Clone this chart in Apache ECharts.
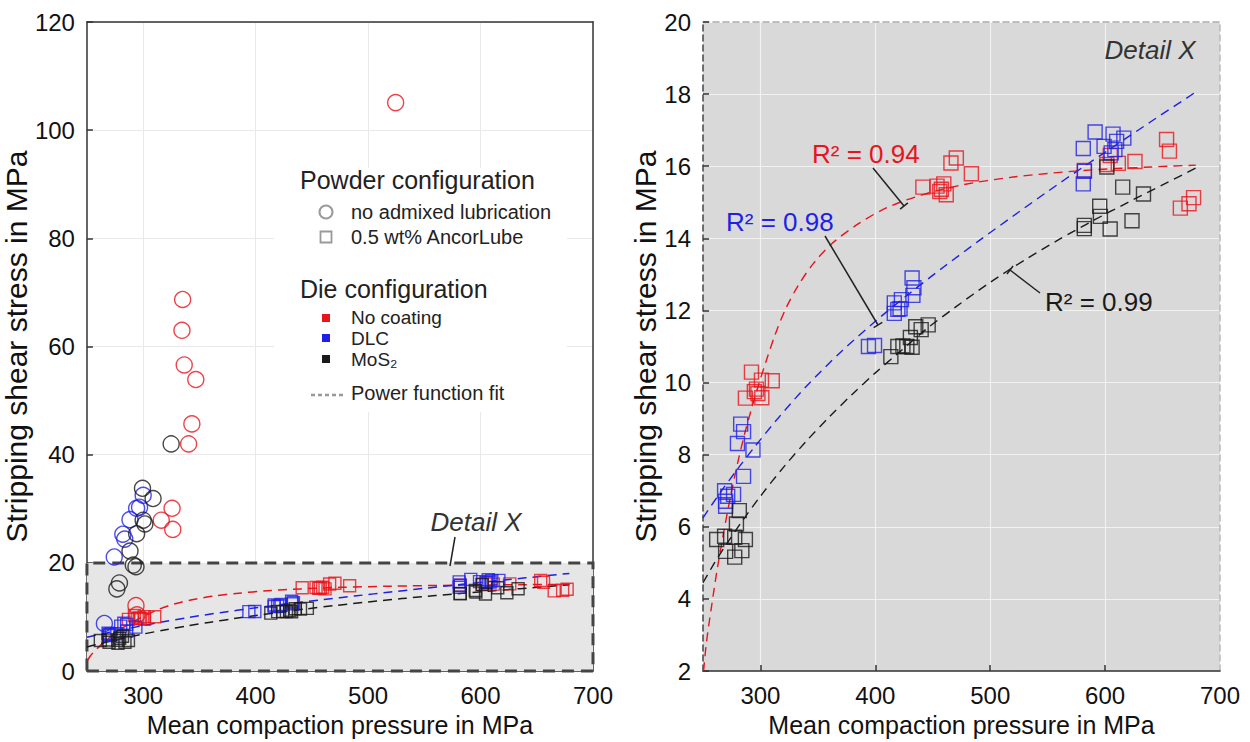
<!DOCTYPE html>
<html><head><meta charset="utf-8">
<script src="https://cdn.jsdelivr.net/npm/echarts@6/dist/echarts.min.js"></script>
<style>html,body{margin:0;padding:0;background:#fff}#c{width:1250px;height:742px}</style>
</head><body><div id="c"></div>
<script>
// ---------- data ----------
// squares: 0.5 wt% AncorLube
const sqRedX = [286.9,292.2,294.7,296.5,297.8,300.9,301.2,310.3, 441.4,453.7,456.1,457.5,459.6,461.7,465.8,470.5,483.6, 581.9,601.5,604.5,611.5,626,653.5,656,665.5,673,677];
const sqRedY = [9.57,10.29,9.75,9.82,9.70,10.07,9.58,10.05, 15.42,15.45,15.30,15.36,15.51,15.21,16.09,16.23,15.79, 15.88,16.05,16.3,16.08,16.13,16.74,16.42,14.84,14.96,15.13];
const sqBlueX = [268.8,269.7,269.7,271.5,276.6,280,282.8,285.3,285.3,293.5, 394,399.3,416.5,416.5,419.6,421.5,422.7,432,433.6,432.7, 581,582,581,591.3,599.1,605.3,606.9,608.5,610,616.3];
const sqBlueY = [7.0,6.71,6.57,6.85,6.9,8.31,8.85,8.64,7.4,8.13, 11.0,11.03,11.92,12.21,12.03,12.05,12.30,12.9,12.63,12.42, 16.49,15.86,15.51,16.95,16.55,16.37,16.89,16.46,16.69,16.78];
const sqBlackX = [261.9,268.8,269.7,277.6,277.6,279.1,281.6,283.8,286.9, 413.5,419.6,424,427.4,430.5,432,435.2,439.9,446, 581.9,581.9,595.3,595.9,601.5,604.4,615.3,623.4,633.4];
const sqBlackY = [5.65,5.74,5.32,5.71,5.16,6.08,6.45,5.34,5.65, 10.72,11.0,11.02,11.0,11.25,10.98,11.55,11.47,11.6, 14.36,14.27,14.89,14.61,15.98,14.26,15.42,14.49,15.23];
// circles: no admixed lubrication
const ciRedX = [524.5,335.1,334.5,336.5,346.8,343.3,340.4,325.7,316.1,326.3,293.6,294.5];
const ciRedY = [105.1,68.7,63.0,56.6,53.9,45.7,42.0,30.1,27.9,26.2,12.1,10.4];
const ciBlueX = [274.3,281.9,283.6,288.3,294.2,296.8,300,265.5];
const ciBlueY = [21.1,25.3,24.4,28.0,30.1,30.3,32.5,8.8];
const ciBlackX = [324.9,299.4,308.8,300,301.5,294.2,288.3,291.2,293.6,278.9,276.6];
const ciBlackY = [42.0,33.8,31.9,27.9,27.2,25.4,22.2,19.6,19.3,16.3,15.2];
// power function fit curves
const fitRedX = [250.5,253,257,262,268,274,280,286,292,298,305,313,322,333,346,362,385,410,440,475,520,580,640,679];
const fitRedY = [2.0,2.8,3.7,4.75,5.85,6.85,7.75,8.55,9.25,9.9,10.6,11.35,12.05,12.7,13.3,13.85,14.4,14.85,15.2,15.48,15.7,15.88,15.98,16.03];
const fitBlueX = [250,265,280,295,315,340,370,400,430,460,490,520,550,580,610,640,679];
const fitBlueY = [6.25,6.95,7.6,8.22,9.0,9.9,10.85,11.7,12.48,13.22,13.93,14.62,15.3,15.96,16.6,17.24,18.06];
const fitBlackX = [250,260,270,285,300,320,340,360,380,400,420,445,470,500,530,560,590,620,650,679];
const fitBlackY = [4.45,5.0,5.5,6.2,6.85,7.65,8.38,9.05,9.68,10.27,10.82,11.5,12.1,12.78,13.4,13.97,14.5,15.0,15.48,15.95];
// axis ticks / labels
const xTicks = [300,400,500,600,700];
const xTickMarks = [300,400,500,600];
const r2Labels = ['R² = 0.94','R² = 0.98','R² = 0.99'];

// ---------- chart ----------
const RED = '#e8141c', BLUE = '#1f1fe6', BLACK = '#1a1a1a';
const FONT = 'Liberation Sans, Arial, sans-serif';
const zip = (xs, ys) => xs.map((x, i) => [x, ys[i]]);
const chart = echarts.init(document.getElementById('c'), null, {renderer: 'svg'});

const G0 = {left: 75, top: 22, width: 518, height: 654};
const G1 = {left: 703, top: 22, width: 517, height: 654};

function xAxisMain(gi, gridColor, gridWidth) {
  return {
    gridIndex: gi, type: 'value', min: 250, max: 700, splitNumber: 5, position: 'bottom',
    name: 'Mean compaction pressure in MPa', nameLocation: 'middle', nameGap: 38,
    nameTextStyle: {fontSize: 25, color: '#111', fontFamily: FONT},
    axisLine: {show: true, onZero: false, lineStyle: {color: '#333', width: 1.5}},
    axisTick: {show: true, inside: true, length: 6, customValues: xTickMarks, lineStyle: {color: '#333', width: 1.5}},
    axisLabel: {customValues: xTicks, fontSize: 24, color: '#111', fontFamily: FONT, margin: 12},
    splitLine: {show: true, lineStyle: {color: gridColor, width: gridWidth}}
  };
}
function yAxisMain(gi, min, max, interval, gridColor, gridWidth, dashed, nameGap) {
  return {
    gridIndex: gi, type: 'value', min: min, max: max, interval: interval, position: 'left',
    name: 'Stripping shear stress in MPa', nameLocation: 'middle', nameGap: nameGap, nameRotate: 90,
    nameTextStyle: {fontSize: 30, color: '#111', fontFamily: FONT},
    axisLine: {show: true, onZero: false, lineStyle: {color: dashed ? '#444' : '#333', width: 1.5, type: dashed ? [6, 4] : 'solid'}},
    axisTick: {show: true, inside: true, length: 6, lineStyle: {color: '#333', width: 1.5}},
    axisLabel: {fontSize: 24, color: '#111', fontFamily: FONT, margin: 12},
    splitLine: {show: true, lineStyle: {color: gridColor, width: gridWidth}}
  };
}
function frameAxis(gi, pos, color, dashed, min, max) {
  return {
    gridIndex: gi, type: 'value', min: min, max: max, position: pos,
    axisLine: {show: true, onZero: false, lineStyle: {color: color, width: 1.5, type: dashed ? [6, 4] : 'solid'}},
    axisTick: {show: false}, axisLabel: {show: false}, splitLine: {show: false}
  };
}

function scatter(name, xi, yi, xs, ys, symbol, size, color) {
  return {
    type: 'scatter', name: name, xAxisIndex: xi, yAxisIndex: yi, z: 4,
    symbol: symbol, symbolSize: size, data: zip(xs, ys), silent: true,
    itemStyle: {color: 'rgba(0,0,0,0)', borderColor: color, borderWidth: 1.4}
  };
}
function fit(xi, yi, xs, ys, color, w, dash) {
  return {
    type: 'line', xAxisIndex: xi, yAxisIndex: yi, z: 3, data: zip(xs, ys),
    showSymbol: false, smooth: 0.3, silent: true,
    lineStyle: {color: color, width: w, type: dash}
  };
}

const series = [
  // Detail X box on overview chart
  {type: 'scatter', xAxisIndex: 0, yAxisIndex: 0, data: [], z: 1, silent: true,
    markArea: {silent: true, z: 1,
      itemStyle: {color: '#e6e6e6', borderColor: '#444', borderWidth: 3, borderType: [12, 7]},
      data: [[{xAxis: 250, yAxis: 0}, {xAxis: 700, yAxis: 20}]]}},
  fit(0, 0, fitRedX, fitRedY, RED, 1.5, [9, 6]),
  fit(0, 0, fitBlueX, fitBlueY, BLUE, 1.5, [9, 6]),
  fit(0, 0, fitBlackX, fitBlackY, BLACK, 1.5, [9, 6]),
  scatter('red sq', 0, 0, sqRedX, sqRedY, 'rect', 12, RED),
  scatter('blue sq', 0, 0, sqBlueX, sqBlueY, 'rect', 12, BLUE),
  scatter('black sq', 0, 0, sqBlackX, sqBlackY, 'rect', 12, BLACK),
  scatter('red ci', 0, 0, ciRedX, ciRedY, 'circle', 16, RED),
  scatter('blue ci', 0, 0, ciBlueX, ciBlueY, 'circle', 16, BLUE),
  scatter('black ci', 0, 0, ciBlackX, ciBlackY, 'circle', 16, BLACK),
  // detail chart
  fit(2, 2, fitRedX, fitRedY, RED, 1.4, [9, 6]),
  fit(2, 2, fitBlueX, fitBlueY, BLUE, 1.4, [9, 6]),
  fit(2, 2, fitBlackX, fitBlackY, BLACK, 1.4, [9, 6]),
  scatter('red sq d', 2, 2, sqRedX, sqRedY, 'rect', 14, RED),
  scatter('blue sq d', 2, 2, sqBlueX, sqBlueY, 'rect', 14, BLUE),
  scatter('black sq d', 2, 2, sqBlackX, sqBlackY, 'rect', 14, BLACK)
];

function leader(x1, y1, x2, y2) {
  const dx = x2 - x1, dy = y2 - y1, L = Math.hypot(dx, dy);
  const px = -dy / L * 5, py = dx / L * 5;
  return [
    {type: 'line', shape: {x1: x1, y1: y1, x2: x2, y2: y2}, style: {stroke: '#222', lineWidth: 1.5}, z: 20, silent: true},
    {type: 'line', shape: {x1: x2 - px, y1: y2 - py, x2: x2 + px, y2: y2 + py}, style: {stroke: '#222', lineWidth: 1.5}, z: 20, silent: true}
  ];
}
function txt(x, y, s, size, color, italic, align) {
  return {type: 'text', x: x, y: y, z: 30, silent: true,
    style: {text: s, fontSize: size, fill: color, fontFamily: FONT, fontStyle: italic ? 'italic' : 'normal',
      textVerticalAlign: 'middle', textAlign: align || 'left'}};
}
const graphic = [
  {type: 'rect', shape: {x: 274, y: 168, width: 293, height: 244}, style: {fill: '#fff'}, z: 1, silent: true},
  txt(300, 180, 'Powder configuration', 25, '#222'),
  {type: 'circle', shape: {cx: 326, cy: 212, r: 6.5}, style: {fill: 'none', stroke: '#9a9a9a', lineWidth: 2}, z: 30},
  txt(351, 212, 'no admixed lubrication', 20, '#222'),
  {type: 'rect', shape: {x: 320.5, y: 231.5, width: 11, height: 11}, style: {fill: 'none', stroke: '#9a9a9a', lineWidth: 1.8}, z: 30},
  txt(351, 237, '0.5 wt% AncorLube', 20, '#222'),
  txt(300, 289, 'Die configuration', 25, '#222'),
  {type: 'rect', shape: {x: 322, y: 314, width: 8, height: 8}, style: {fill: RED}, z: 30},
  txt(351, 317, 'No coating', 19, '#222'),
  {type: 'rect', shape: {x: 322, y: 334, width: 8, height: 8}, style: {fill: BLUE}, z: 30},
  txt(351, 338, 'DLC', 19, '#222'),
  {type: 'rect', shape: {x: 322, y: 355, width: 8, height: 8}, style: {fill: BLACK}, z: 30},
  txt(351, 359, 'MoS₂', 19, '#222'),
  {type: 'line', shape: {x1: 311, y1: 395, x2: 345, y2: 395}, style: {stroke: '#999', lineWidth: 2.5, lineDash: [4, 3]}, z: 30},
  txt(351, 393, 'Power function fit', 20, '#222'),
  // Detail X labels
  txt(476, 522, 'Detail X', 26, '#333', true, 'center'),
  {type: 'line', shape: {x1: 455, y1: 537, x2: 450, y2: 566}, style: {stroke: '#222', lineWidth: 1.5}, z: 30},
  txt(1150, 50, 'Detail X', 26, '#333', true, 'center'),
  // R² labels
  txt(812, 154, r2Labels[0], 26, RED),
  txt(726, 222, r2Labels[1], 26, BLUE),
  txt(1045, 302, r2Labels[2], 26, BLACK)
].concat(leader(873, 168, 904, 206), leader(825, 236, 878, 325), leader(1040, 293, 1010, 270));

chart.setOption({
  animation: false,
  backgroundColor: '#fff',
  textStyle: {fontFamily: FONT},
  grid: [
    Object.assign({show: true, backgroundColor: '#fff', borderWidth: 0}, G0),
    Object.assign({show: true, backgroundColor: '#d9d9d9', borderWidth: 0}, G1)
  ],
  xAxis: [
    xAxisMain(0, '#e9e9e9', 1),
    frameAxis(0, 'top', '#333', false, 250, 700),
    xAxisMain(1, '#f2f2f2', 1.2),
    frameAxis(1, 'top', '#aaa', true, 250, 700)
  ],
  yAxis: [
    yAxisMain(0, 0, 120, 20, '#e9e9e9', 1, false, 25),
    frameAxis(0, 'right', '#333', false, 0, 120),
    yAxisMain(1, 2, 20, 2, '#f2f2f2', 1.2, true, 25),
    frameAxis(1, 'right', '#bbb', true, 2, 20)
  ],
  series: series,
  graphic: graphic
});
</script></body></html>
